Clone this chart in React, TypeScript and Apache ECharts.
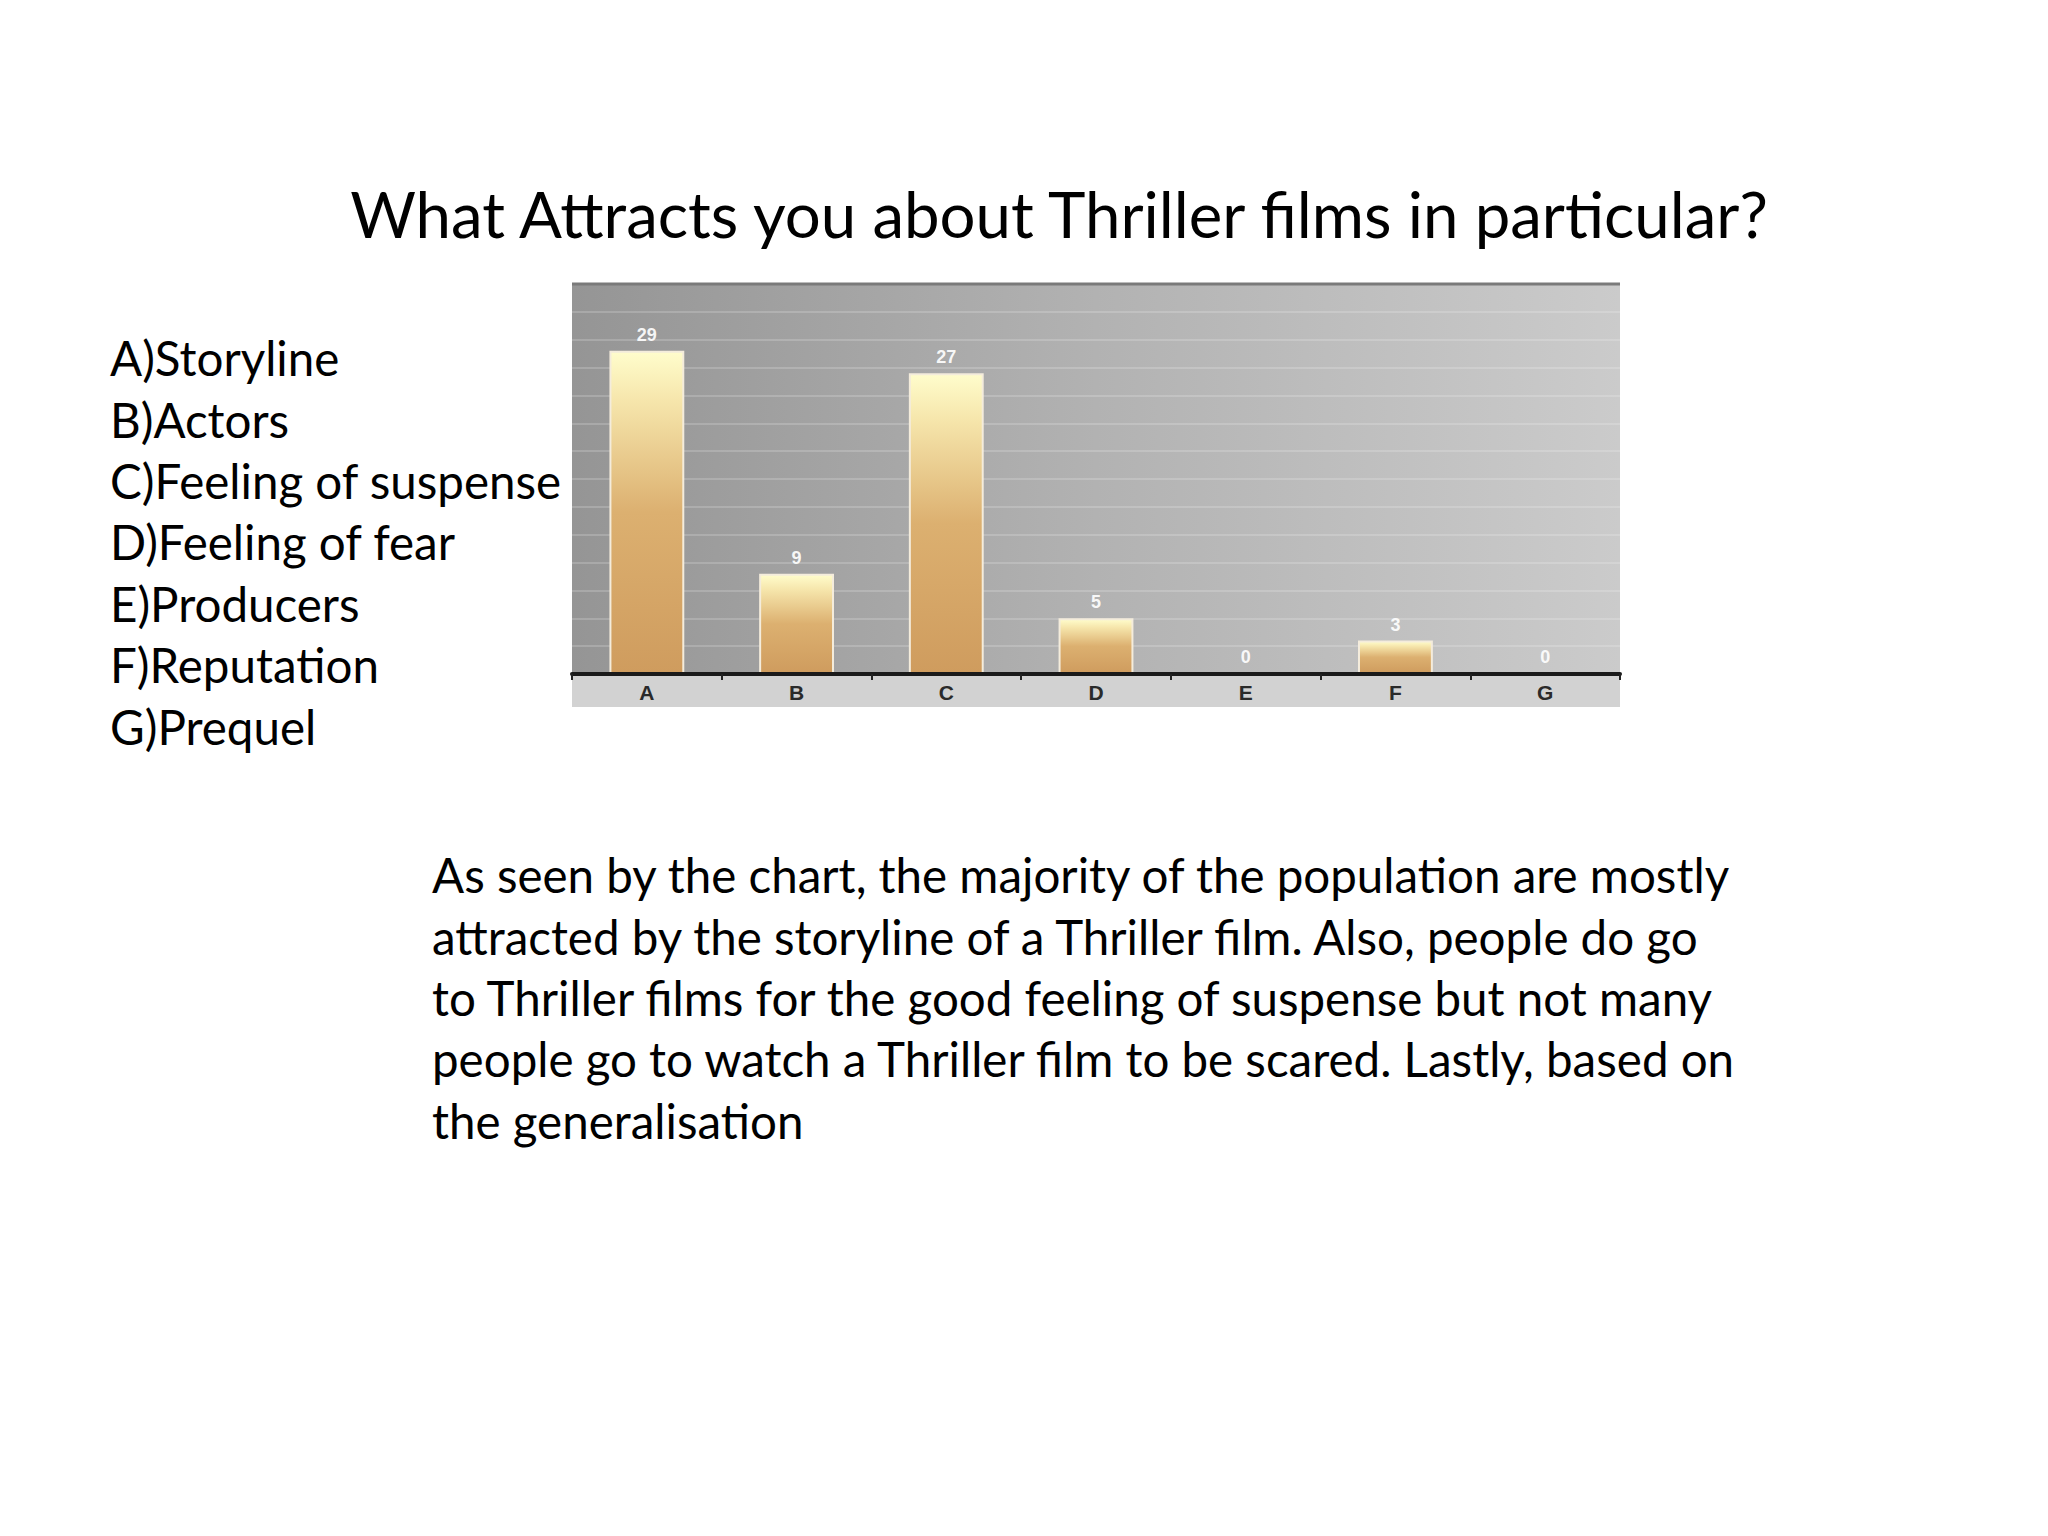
import React, { useEffect, useRef } from "react";
import * as echarts from "echarts";

const titleText = "What Attracts you about Thriller films in particular?";
const categories = ["A", "B", "C", "D", "E", "F", "G"];
const values = [29, 9, 27, 5, 0, 3, 0];
const listItems = [
  "A)Storyline",
  "B)Actors",
  "C)Feeling of suspense",
  "D)Feeling of fear",
  "E)Producers",
  "F)Reputation",
  "G)Prequel",
];
const paragraphLines = [
  "As seen by the chart, the majority of the population are mostly",
  "attracted by the storyline of a Thriller film. Also, people do go",
  "to Thriller films for the good feeling of suspense but not many",
  "people go to watch a Thriller film to be scared. Lastly, based on",
  "the generalisation",
];

const FONT = "Lato, 'Open Sans', sans-serif";

export default function App() {
  const ref = useRef<HTMLDivElement>(null);
  useEffect(() => {
    document.body.style.margin = "0";
    const chart = echarts.init(ref.current!, null, { renderer: "svg" });
    const gridLeft = 572;
    const gridRight = 1620;
    const gridTop = 284;
    const axisY = 674;
    chart.setOption({
      animation: false,
      backgroundColor: "#ffffff",
      grid: {
        left: gridLeft,
        right: 2048 - gridRight,
        top: gridTop,
        bottom: 1536 - axisY,
        show: true,
        borderWidth: 0,
        backgroundColor: new echarts.graphic.LinearGradient(0, 0, 1, 0, [
          { offset: 0, color: "#959595" },
          { offset: 0.5, color: "#b2b2b2" },
          { offset: 1, color: "#cbcbcb" },
        ]),
      },
      xAxis: {
        type: "category",
        data: categories,
        axisLine: { show: true, lineStyle: { color: "#1a1a1a", width: 4 } },
        axisTick: { show: true, alignWithLabel: false, length: 6, lineStyle: { color: "#222", width: 2 } },
        axisLabel: {
          color: "#2a2a2a",
          fontWeight: "bold",
          fontFamily: "Arial, 'Liberation Sans', sans-serif",
          fontSize: 21,
          margin: 8,
        },
        z: 5,
      },
      yAxis: {
        type: "value",
        min: 0,
        max: 35,
        interval: 2.5,
        axisLabel: { show: false },
        axisLine: { show: false },
        axisTick: { show: false },
        splitLine: { show: true, lineStyle: { color: "rgba(255,255,255,0.18)", width: 2 } },
      },
      series: [
        {
          type: "bar",
          data: values,
          barWidth: "50%",
          itemStyle: {
            color: new echarts.graphic.LinearGradient(0, 0, 0, 1, [
              { offset: 0, color: "#fffdcc" },
              { offset: 0.15, color: "#f6e6ac" },
              { offset: 0.5, color: "#dcb070" },
              { offset: 1, color: "#cf9c5e" },
            ]),
            borderColor: "#f4ecdc",
            borderWidth: 2,
          },
          label: {
            show: true,
            position: "top",
            color: "rgba(255,255,255,0.92)",
            fontWeight: "bold",
            fontFamily: "Arial, 'Liberation Sans', sans-serif",
            fontSize: 18,
            distance: 7,
          },
        },
      ],
      graphic: [
        {
          type: "rect",
          shape: { x: gridLeft, y: axisY, width: gridRight - gridLeft, height: 33 },
          style: { fill: "#d2d2d2" },
          z: -1,
          silent: true,
        },
        {
          type: "line",
          shape: { x1: gridLeft, y1: gridTop, x2: gridRight, y2: gridTop },
          style: { stroke: "#7a7a7a", lineWidth: 3 },
          z: 10,
          silent: true,
        },
        {
          type: "text",
          x: 1059,
          y: 213,
          style: {
            text: titleText,
            fill: "#000",
            fontFamily: FONT,
            fontSize: 63.5,
            textAlign: "center",
            textVerticalAlign: "middle",
          },
        },
        {
          type: "text",
          x: 110,
          y: 327,
          style: {
            text: listItems.join("\n"),
            fill: "#000",
            fontFamily: FONT,
            fontSize: 47.5,
            lineHeight: 61.4,
            textAlign: "left",
            textVerticalAlign: "top",
          },
        },
        {
          type: "text",
          x: 432,
          y: 844,
          style: {
            text: paragraphLines.join("\n"),
            fill: "#000",
            fontFamily: FONT,
            fontSize: 47.5,
            lineHeight: 61.4,
            textAlign: "left",
            textVerticalAlign: "top",
          },
        },
      ],
    });
    return () => chart.dispose();
  }, []);
  return <div ref={ref} style={{ width: 2048, height: 1536 }} />;
}
